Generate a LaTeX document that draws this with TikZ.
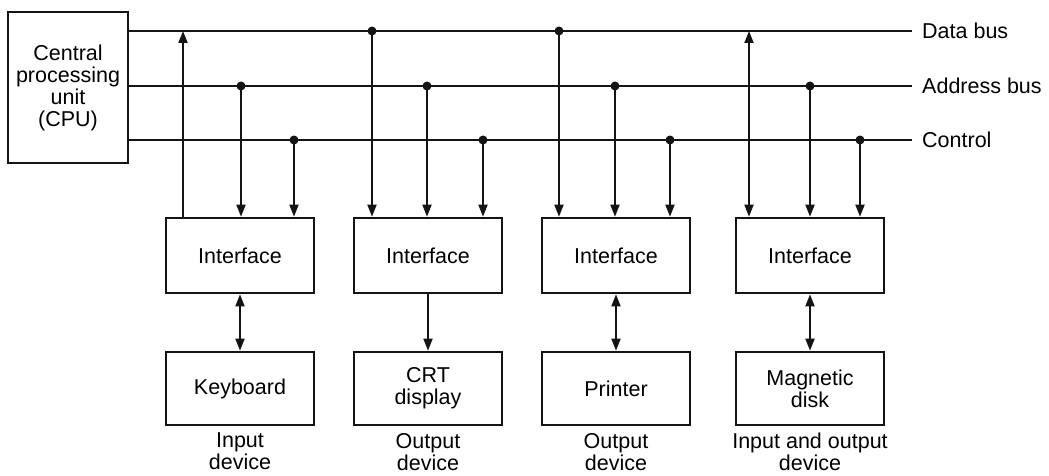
\documentclass[tikz,border=0pt]{standalone}
\usepackage{fontspec}
\setmainfont{Liberation Sans}
\usepackage{tikz}
\usetikzlibrary{arrows.meta,positioning,calc}
\definecolor{ink}{HTML}{141414}

\tikzset{
  blk/.style={draw=ink,line width=2.6pt,minimum width=148pt,minimum height=75pt,inner sep=2pt,align=center},
  wire/.style={draw=ink,line width=1.8pt},
  arr/.style={-{Triangle[length=12pt,width=9pt]}},
  arrboth/.style={{Triangle[length=12pt,width=9pt]}-{Triangle[length=12pt,width=9pt]}},
}

\begin{document}
\begin{tikzpicture}[x=1pt,y=1pt,font=\fontsize{21.5}{22}\selectfont]
  \useasboundingbox (0,0) rectangle (1049,-476);
  \node[blk,minimum width=120pt,minimum height=151pt] (cpu) at (68,-87.5) {Central\\processing\\unit\\(CPU)};
  % the three buses
  \foreach \n/\y/\t in {db/31/Data bus,ab/86/Address bus,cb/140/Control} {
    \coordinate (\n) at (912,-\y);
    \node[anchor=west,inner sep=0pt] (\n lab) at (922,-\y) {\t};
    \draw[wire] (cpu.east |- \n) -- (\n);
  }
  % interfaces and devices
  \foreach \x/\dev/\lab [count=\i] in {240/Keyboard/{Input\\device},428/{CRT\\display}/{Output\\device},616/Printer/{Output\\device},810/{Magnetic\\disk}/{Input and output\\device}} {
    \node[blk] (if\i) at (\x,-255.5) {Interface};
    \node[blk,minimum height=73pt] (dev\i) at (\x,-388.5) {\dev};
    \node[anchor=north,inner sep=0pt,align=center] (lab\i) at (\x,-433) {\lab};
  }
  \draw[wire,arrboth] (if1.south) -- (dev1.north);
  \draw[wire,arr] (if2.south) -- (dev2.north);
  \draw[wire,arrboth] (if3.south) -- (dev3.north);
  \draw[wire,arrboth] (if4.south) -- (dev4.north);
  % taps off the buses
  \foreach \i/\x/\y in {1/241/86,1/294/140,2/372/31,2/427/86,2/483/140,3/559/31,3/615/86,3/670/140,4/810/86,4/860/140} {
    \coordinate (t\i\x) at (\x,-\y);
    \fill[ink] (t\i\x) circle (4.5pt);
    \draw[wire,arr] (t\i\x) -- (t\i\x |- if\i.north);
  }
  \coordinate (u1) at (183,-31);
  \draw[wire,arr] (u1 |- if1.north) -- (u1);
  \coordinate (u4) at (749,-31);
  \draw[wire,arrboth] (u4) -- (u4 |- if4.north);
\end{tikzpicture}
\end{document}
